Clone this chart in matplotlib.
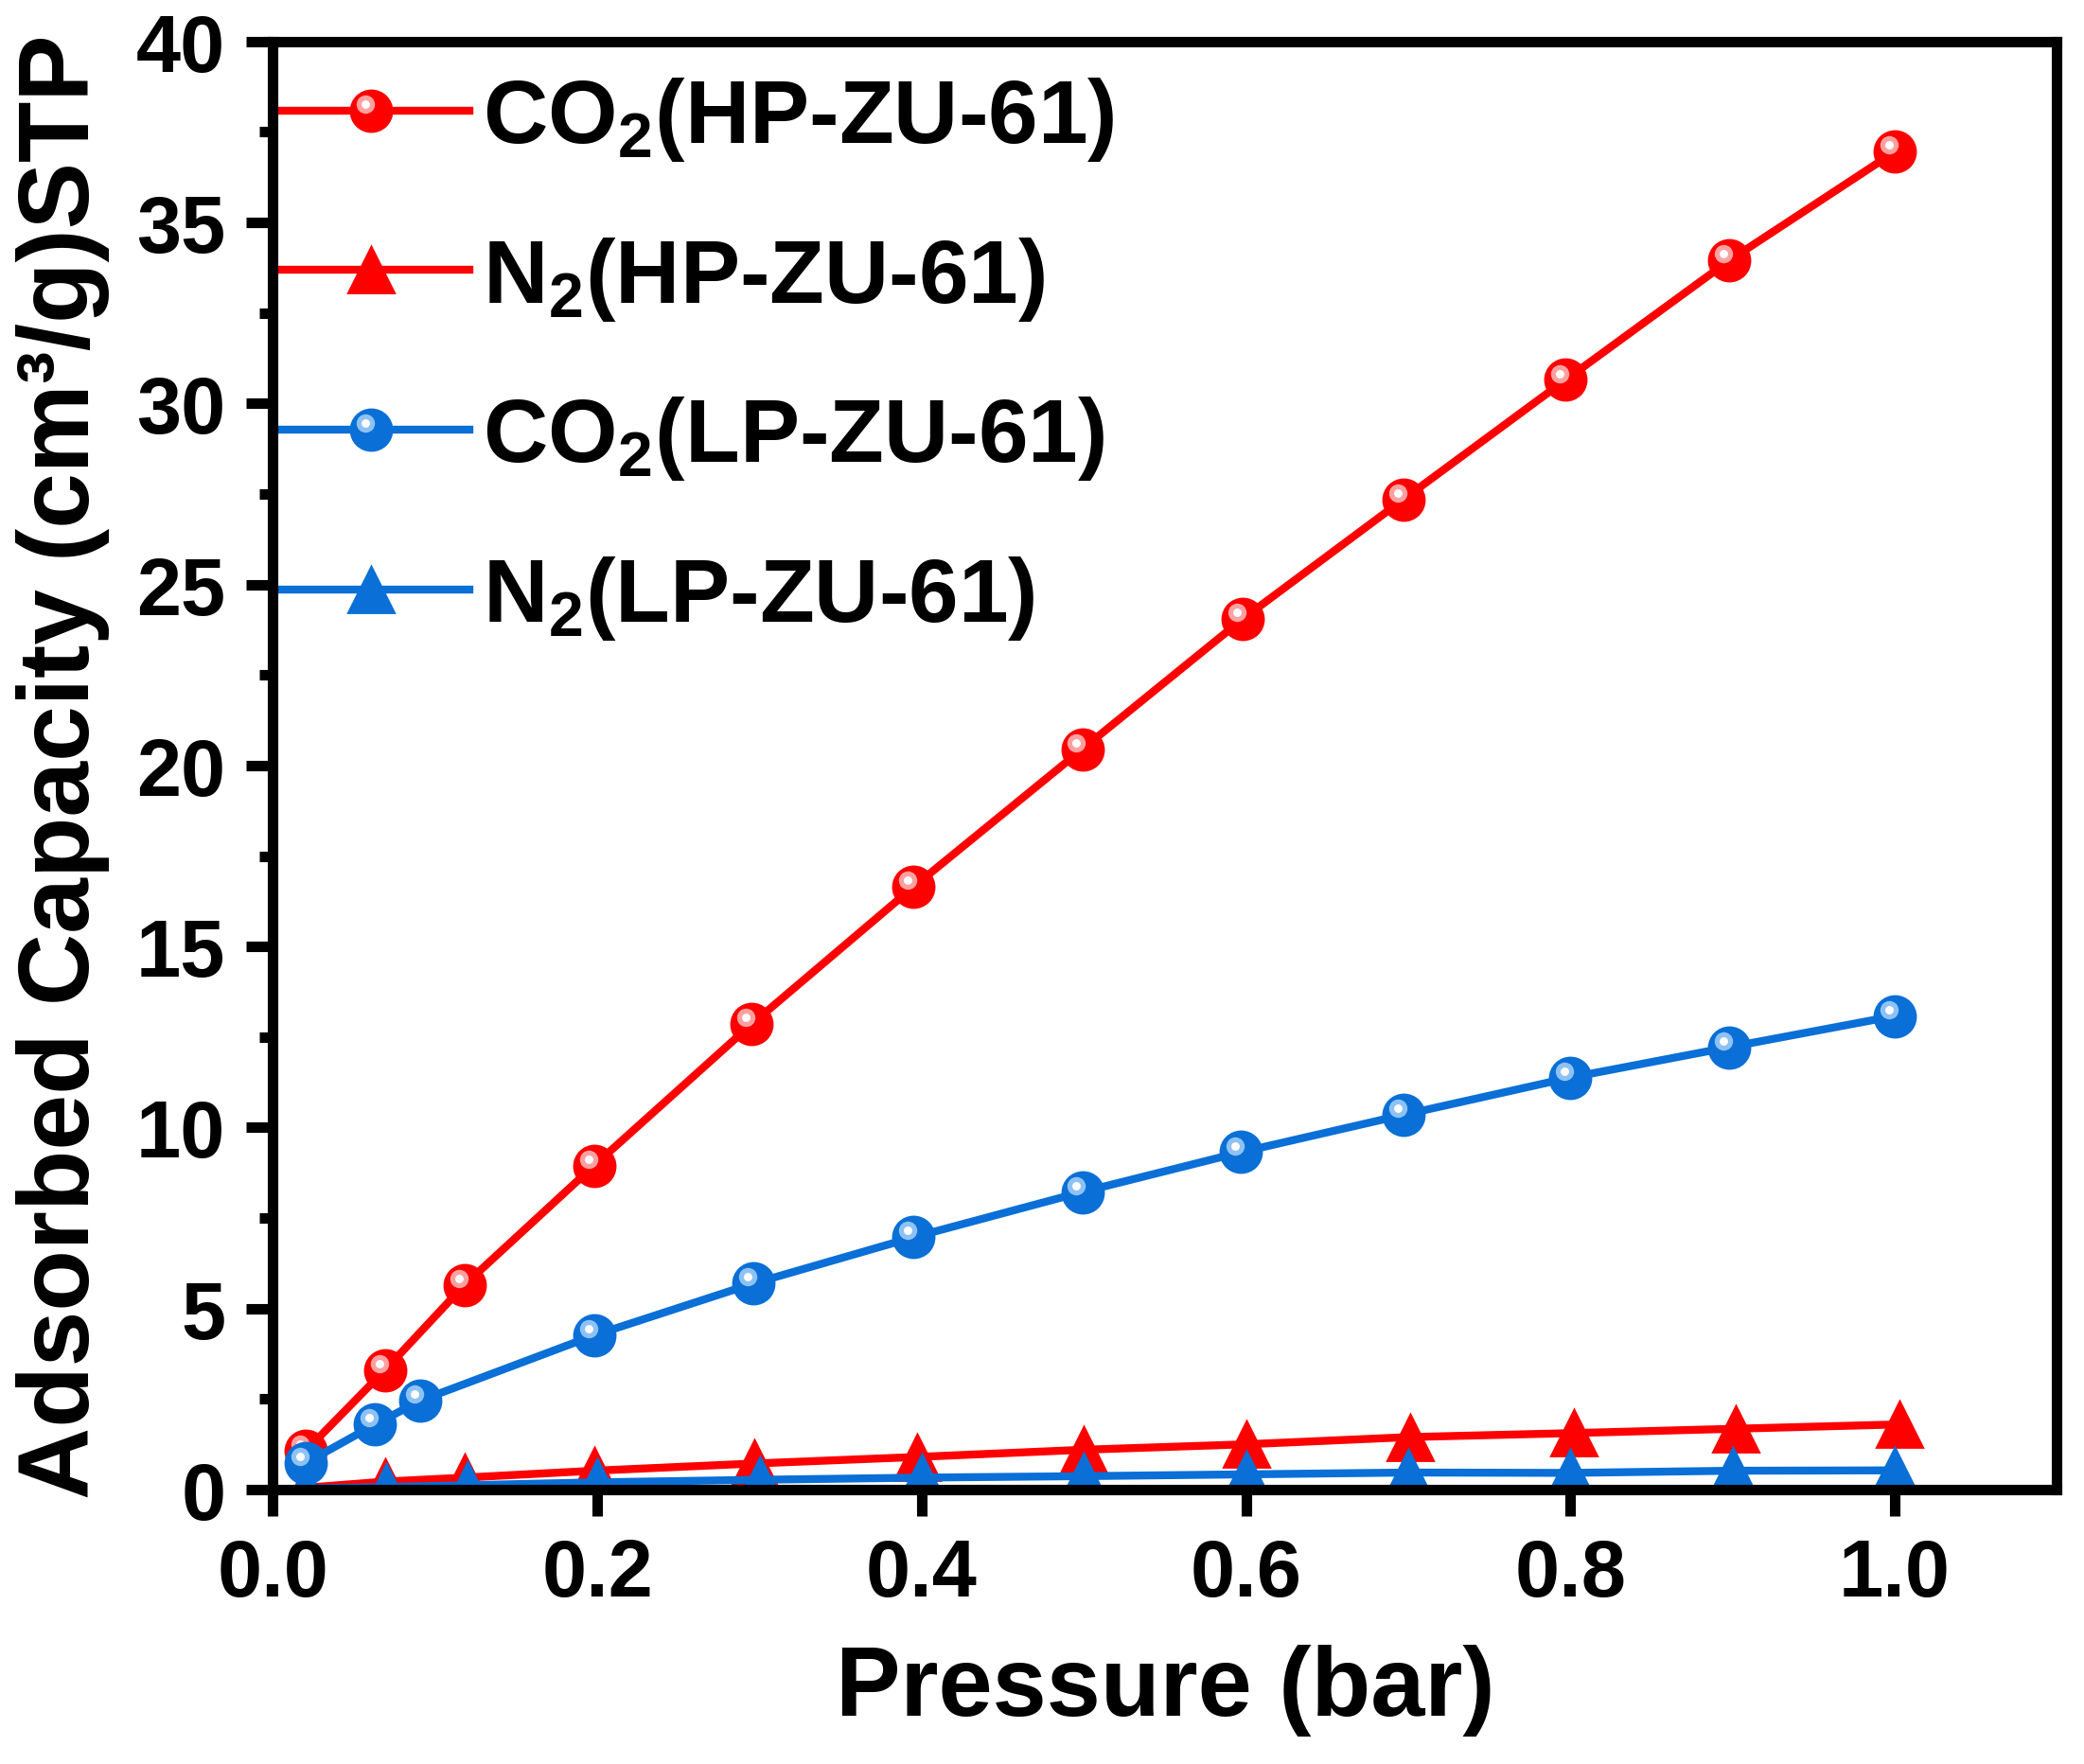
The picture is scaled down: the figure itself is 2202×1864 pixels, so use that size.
import numpy as np
import matplotlib.pyplot as plt
from matplotlib.ticker import MultipleLocator
from matplotlib.legend_handler import HandlerTuple, HandlerLine2D
import matplotlib.transforms as mtransforms

plt.rcParams['font.family'] = ['Liberation Sans', 'DejaVu Sans']
plt.rcParams['font.weight'] = 'bold'
plt.rcParams['mathtext.fontset'] = 'custom'
plt.rcParams['mathtext.rm'] = 'Liberation Sans:bold'
plt.rcParams['mathtext.bf'] = 'Liberation Sans:bold'
plt.rcParams['mathtext.default'] = 'bf'

# Datos
p_co2_hp = [0.02, 0.069, 0.118, 0.198, 0.295, 0.395, 0.499, 0.598, 0.697, 0.797, 0.898, 1.0]
q_co2_hp = [1.06, 3.3, 5.65, 8.95, 12.85, 16.65, 20.45, 24.05, 27.35, 30.65, 33.95, 36.95]

p_co2_lp = [0.02, 0.063, 0.091, 0.198, 0.296, 0.395, 0.499, 0.597, 0.697, 0.8, 0.898, 1.0]
q_co2_lp = [0.73, 1.8, 2.46, 4.26, 5.69, 6.97, 8.22, 9.32, 10.35, 11.38, 12.22, 13.08]

p_n2_hp = [0.02, 0.069, 0.118, 0.198, 0.297, 0.397, 0.5, 0.6, 0.701, 0.802, 0.902, 1.003]
q_n2_hp = [0.05, 0.22, 0.33, 0.52, 0.72, 0.9, 1.1, 1.25, 1.45, 1.56, 1.68, 1.8]

p_n2_lp = [0.02, 0.07, 0.12, 0.2, 0.3, 0.4, 0.5, 0.6, 0.7, 0.8, 0.9, 1.0]
q_n2_lp = [0.03, 0.07, 0.12, 0.2, 0.27, 0.33, 0.37, 0.42, 0.47, 0.46, 0.52, 0.53]

labels = ['CO$_2$(HP-ZU-61)', 'N$_2$(HP-ZU-61)', 'CO$_2$(LP-ZU-61)', 'N$_2$(LP-ZU-61)']

RED = '#FF0000'
BLUE = '#0A6FD6'

fig = plt.figure(figsize=(11.01, 9.325), dpi=200)
ax = fig.add_axes([0.131, 0.1555, 0.856, 0.8205])

# brillo de las esferas (desplazado arriba a la izquierda)
shift = mtransforms.ScaledTranslation(-2.2/72, 2.5/72, fig.dpi_scale_trans)


class BrilloHandler(HandlerLine2D):
    def create_artists(self, legend, orig_handle, xdescent, ydescent, width, height,
                       fontsize, trans):
        arts = super().create_artists(legend, orig_handle, xdescent, ydescent,
                                      width, height, fontsize, trans)
        for a in arts:
            a.set_transform(trans + shift)
        return arts


brillos = {}

def esfera(x, y, color, ring, z):
    ln, = ax.plot(x, y, '-o', color=color, lw=3, ms=15.5, mec=color, zorder=z)
    r, = ax.plot(x, y, 'o', color=ring, ms=7, mec='none', zorder=z + 0.1,
                 transform=ax.transData + shift)
    w, = ax.plot(x, y, 'o', color='white', ms=3.2, mec='none', zorder=z + 0.2,
                 transform=ax.transData + shift)
    brillos[r] = BrilloHandler()
    brillos[w] = BrilloHandler()
    return ln, r, w

h1 = esfera(p_co2_hp, q_co2_hp, RED, '#FFA0A0', 3)
h2, = ax.plot(p_n2_hp, q_n2_hp, '-^', color=RED, lw=3, ms=17, zorder=2)
h3 = esfera(p_co2_lp, q_co2_lp, BLUE, '#8EC2F4', 4)
h4, = ax.plot(p_n2_lp, q_n2_lp, '-^', color=BLUE, lw=3, ms=17, zorder=2.5)

ax.set_xlim(0, 1.1)
ax.set_ylim(0, 40)
ax.xaxis.set_major_locator(MultipleLocator(0.2))
ax.yaxis.set_major_locator(MultipleLocator(5))
ax.yaxis.set_minor_locator(MultipleLocator(2.5))
ax.xaxis.set_major_formatter(plt.FuncFormatter(lambda v, _: f'{v:.1f}'))

for s in ax.spines.values():
    s.set_linewidth(4)
    s.set_zorder(10)
ax.tick_params(axis='both', which='major', direction='out', length=10, width=4,
               labelsize=30.5, pad=8)
ax.tick_params(axis='y', which='minor', direction='out', length=5, width=4)
ax.tick_params(axis='x', which='minor', bottom=False)

ax.set_xlabel('Pressure (bar)', fontsize=37, fontweight='bold', labelpad=12)
ax.set_ylabel('Adsorbed Capacity (cm³/g)STP', fontsize=38, fontweight='bold', labelpad=10)

hmap = {tuple: HandlerTuple(ndivide=1, pad=0)}
hmap.update(brillos)
leg = ax.legend([h1, h2, h3, h4], labels, loc='upper left', bbox_to_anchor=(0, 0.977),
                frameon=False, fontsize=34, handlelength=2.2, handletextpad=0.15,
                labelspacing=0.8, borderaxespad=0, borderpad=0, handler_map=hmap)

plt.savefig('out.png', dpi=200)
